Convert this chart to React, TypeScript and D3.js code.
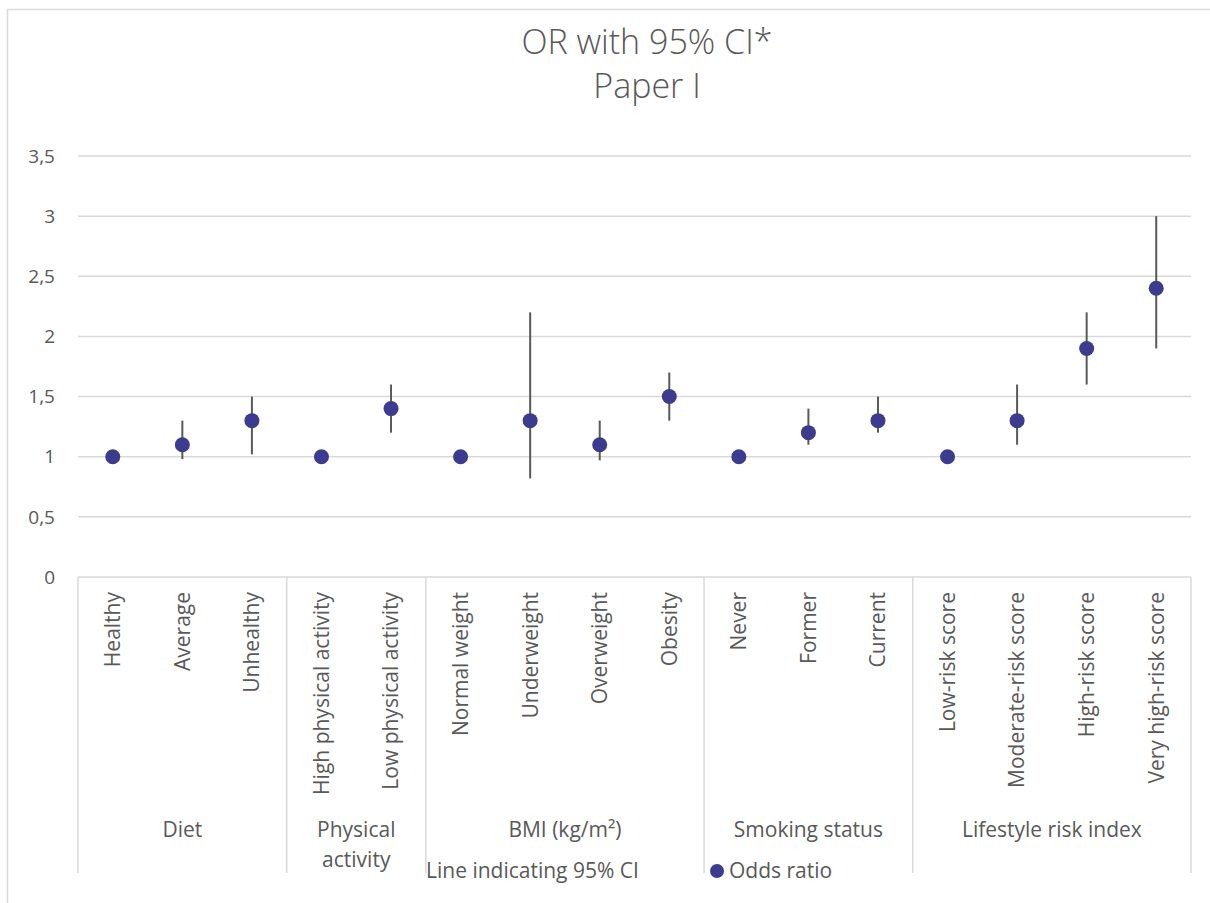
import React, { useEffect, useRef } from 'react';
import * as d3 from 'd3';

const categories = [
  'Healthy', 'Average', 'Unhealthy',
  'High physical activity', 'Low physical activity',
  'Normal weight', 'Underweight', 'Overweight', 'Obesity',
  'Never', 'Former', 'Current',
  'Low-risk score', 'Moderate-risk score', 'High-risk score', 'Very high-risk score',
];
const oddsRatio = [1, 1.1, 1.3, 1, 1.4, 1, 1.3, 1.1, 1.5, 1, 1.2, 1.3, 1, 1.3, 1.9, 2.4];
const ciLow = [null, 0.98, 1.02, null, 1.2, null, 0.82, 0.97, 1.3, null, 1.1, 1.2, null, 1.1, 1.6, 1.9];
const ciHigh = [null, 1.3, 1.5, null, 1.6, null, 2.2, 1.3, 1.7, null, 1.4, 1.5, null, 1.6, 2.2, 3.0];
const groups = [
  { name: ['Diet'], size: 3 },
  { name: ['Physical', 'activity'], size: 2 },
  { name: ['BMI (kg/m²)'], size: 4 },
  { name: ['Smoking status'], size: 3 },
  { name: ['Lifestyle risk index'], size: 4 },
];
const yTicks = [0, 0.5, 1, 1.5, 2, 2.5, 3, 3.5];

const W = 1210;
const H = 903;
const FONT = '"Open Sans", sans-serif';
const TXT = '#595959';
const DOT = '#3b3c8f';

const App = () => {
  const ref = useRef<SVGSVGElement>(null);

  useEffect(() => {
    const svg = d3.select(ref.current);
    svg.selectAll('*').remove();

    const left = 78, right = 1191, top = 156, bottom = 577;

    const x = d3.scaleBand().domain(categories).range([left, right]);
    const y = d3.scaleLinear().domain([0, 3.5]).range([bottom, top]);

    // chart border
    svg.append('rect')
      .attr('x', 7.5).attr('y', 9.5)
      .attr('width', W).attr('height', H)
      .attr('fill', 'white')
      .attr('stroke', '#d9d9d9').attr('stroke-width', 1.5);

    // title
    const title = svg.append('text')
      .attr('text-anchor', 'middle')
      .attr('font-family', FONT)
      .attr('font-weight', 300)
      .attr('font-size', 34)
      .attr('fill', TXT);
    title.append('tspan').attr('x', 647).attr('y', 54).text('OR with 95% CI*');
    title.append('tspan').attr('x', 647).attr('y', 98).text('Paper I');

    // gridlines
    svg.append('g').selectAll('line').data(yTicks.filter((t) => t > 0)).enter()
      .append('line')
      .attr('x1', left).attr('x2', right)
      .attr('y1', (d) => y(d)).attr('y2', (d) => y(d))
      .attr('stroke', '#d9d9d9').attr('stroke-width', 1.5);

    // y tick labels
    svg.append('g').selectAll('text').data(yTicks).enter()
      .append('text')
      .attr('x', 55).attr('y', (d) => y(d))
      .attr('dy', '0.35em')
      .attr('text-anchor', 'end')
      .attr('font-family', FONT).attr('font-size', 19)
      .attr('fill', TXT)
      .text((d) => String(d).replace('.', ','));

    // x axis line + group dividers
    svg.append('line')
      .attr('x1', left).attr('x2', right)
      .attr('y1', bottom).attr('y2', bottom)
      .attr('stroke', '#d9d9d9').attr('stroke-width', 1.5);

    let idx = 0;
    const bounds = [0];
    groups.forEach((g) => { idx += g.size; bounds.push(idx); });
    const bx = (i: number) => (i < categories.length ? x(categories[i])! : right);

    svg.append('g').selectAll('line').data(bounds).enter()
      .append('line')
      .attr('x1', (d) => bx(d)).attr('x2', (d) => bx(d))
      .attr('y1', bottom).attr('y2', 873)
      .attr('stroke', '#d9d9d9').attr('stroke-width', 1.5);

    // category labels
    svg.append('g').selectAll('text').data(categories).enter()
      .append('text')
      .attr('transform', (d) => `translate(${x(d)! + x.bandwidth() / 2},592) rotate(-90)`)
      .attr('dy', '0.35em')
      .attr('text-anchor', 'end')
      .attr('font-family', FONT).attr('font-size', 21)
      .attr('fill', TXT)
      .text((d) => d);

    // group labels
    groups.forEach((g, i) => {
      const cx = (bx(bounds[i]) + bx(bounds[i + 1])) / 2;
      const t = svg.append('text')
        .attr('text-anchor', 'middle')
        .attr('font-family', FONT).attr('font-size', 21)
        .attr('fill', TXT);
      g.name.forEach((line, j) => {
        t.append('tspan').attr('x', cx).attr('y', 830 + j * 30).attr('dy', '0.35em').text(line);
      });
    });

    const cx = (d: string) => x(d)! + x.bandwidth() / 2;

    // error bars
    svg.append('g').selectAll('line')
      .data(categories.map((c, i) => ({ c, lo: ciLow[i], hi: ciHigh[i] })).filter((d) => d.lo !== null))
      .enter().append('line')
      .attr('x1', (d) => cx(d.c)).attr('x2', (d) => cx(d.c))
      .attr('y1', (d) => y(d.lo as number)).attr('y2', (d) => y(d.hi as number))
      .attr('stroke', '#595959').attr('stroke-width', 2);

    // dots
    svg.append('g').selectAll('circle').data(categories).enter()
      .append('circle')
      .attr('cx', (d) => cx(d))
      .attr('cy', (d, i) => y(oddsRatio[i]))
      .attr('r', 7.5)
      .attr('fill', DOT);

    // legend
    svg.append('text')
      .attr('x', 426).attr('y', 871).attr('dy', '0.35em')
      .attr('font-family', FONT).attr('font-size', 21)
      .attr('fill', TXT)
      .text('Line indicating 95% CI');
    svg.append('circle').attr('cx', 717).attr('cy', 871).attr('r', 7).attr('fill', DOT);
    svg.append('text')
      .attr('x', 729).attr('y', 871).attr('dy', '0.35em')
      .attr('font-family', FONT).attr('font-size', 21)
      .attr('fill', TXT)
      .text('Odds ratio');
  });

  return (
    <svg ref={ref} width={W} height={H} style={{ position: 'absolute', left: 0, top: 0 }}></svg>
  );
};

export default App;
